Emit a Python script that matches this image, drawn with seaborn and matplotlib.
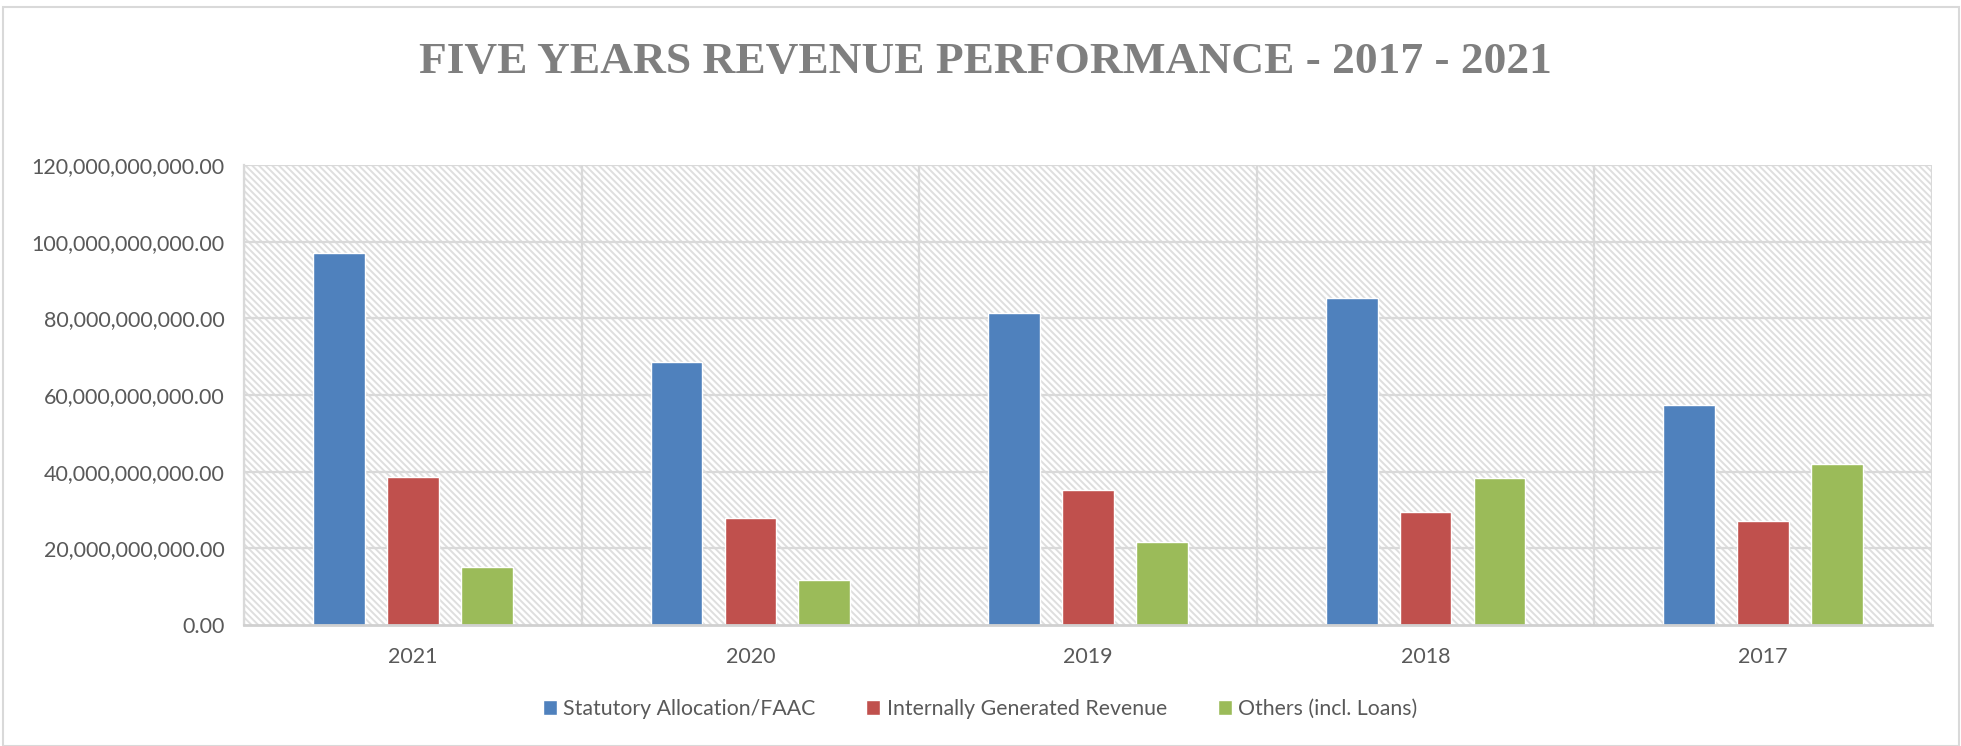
import matplotlib
matplotlib.use("Agg")
import matplotlib.pyplot as plt
import seaborn as sns
import pandas as pd
from matplotlib.patches import Rectangle
from matplotlib.ticker import FuncFormatter

# ---- data ----
years = ["2021", "2020", "2019", "2018", "2017"]
series_names = ["Statutory Allocation/FAAC", "Internally Generated Revenue", "Others (incl. Loans)"]
statutory = [97.1e9, 68.6e9, 81.3e9, 85.4e9, 57.4e9]
igr = [38.5e9, 27.8e9, 35.1e9, 29.5e9, 27.1e9]
others = [15.2e9, 11.7e9, 21.7e9, 38.3e9, 42.0e9]
yticks = [0, 20e9, 40e9, 60e9, 80e9, 100e9, 120e9]
title = "FIVE YEARS REVENUE PERFORMANCE - 2017 - 2021"
colors = ["#4F81BD", "#C0504D", "#9BBB59"]

df = pd.DataFrame({
    "Year": years * 3,
    "Series": [series_names[0]] * 5 + [series_names[1]] * 5 + [series_names[2]] * 5,
    "Value": statutory + igr + others,
})

sns.set_theme(style="white")
plt.rcParams["font.family"] = ["Lato", "DejaVu Sans"]
plt.rcParams["hatch.color"] = "#dedede"
plt.rcParams["hatch.linewidth"] = 1.4

W, H = 1961, 746
fig = plt.figure(figsize=(W / 100, H / 100), dpi=100)
ax = fig.add_axes([244 / W, 1 - 625 / H, (1932 - 244) / W, (625 - 165) / H])

# hatched background
bg = Rectangle((0, 0), 1, 1, transform=ax.transAxes, facecolor="white",
               edgecolor="#dedede", linewidth=0, hatch="\\" * 5, zorder=0.1)
ax.add_patch(bg)

sns.barplot(data=df, x="Year", y="Value", hue="Series", order=years,
            hue_order=series_names, palette=colors, width=0.657, gap=0.30,
            saturation=1, ax=ax, zorder=2, legend=True)

ax.set_xlim(-0.5, 4.5)
ax.set_ylim(0, 120e9)
ax.set_yticks(yticks)
ax.yaxis.set_major_formatter(FuncFormatter(lambda v, p: f"{v:,.2f}"))

grid_c = "#d9d9d9"
for yv in yticks[1:]:
    ax.axhline(yv, color=grid_c, lw=1.6, zorder=0.5)
for xv in [-0.5, 0.5, 1.5, 2.5, 3.5, 4.5]:
    ax.axvline(xv, color=grid_c, lw=1.6, zorder=0.5)

for s in ["top", "right"]:
    ax.spines[s].set_visible(False)
ax.spines["left"].set_color(grid_c)
ax.spines["left"].set_linewidth(1.6)
ax.spines["bottom"].set_color("#d0d0d0")
ax.spines["bottom"].set_linewidth(2.0)
ax.spines["bottom"].set_zorder(3)

ax.set_xlabel("")
ax.set_ylabel("")
ax.tick_params(axis="both", length=0, labelsize=15.5, labelcolor="#595959")
ax.tick_params(axis="x", pad=16)
ax.tick_params(axis="y", pad=14)

leg = ax.legend(loc="center", bbox_to_anchor=(980 / W, 1 - 709 / H),
                bbox_transform=fig.transFigure, ncol=3, frameon=False,
                fontsize=15.3, handlelength=0.65, handleheight=0.65,
                handletextpad=0.3, columnspacing=2.4)
for t in leg.get_texts():
    t.set_color("#595959")

fig.text(985 / W, 1 - 62 / H, title, ha="center", va="center",
         fontsize=32.7, fontweight="bold", color="#7f7f7f",
         family=["Liberation Serif", "DejaVu Serif"])

# outer chart border
fig.patches.append(Rectangle((3 / W, 0), (1959 - 3) / W, 1 - 7 / H,
                             transform=fig.transFigure, fill=False,
                             edgecolor="#d9d9d9", lw=1.5))

fig.savefig("out.png", dpi=100)
